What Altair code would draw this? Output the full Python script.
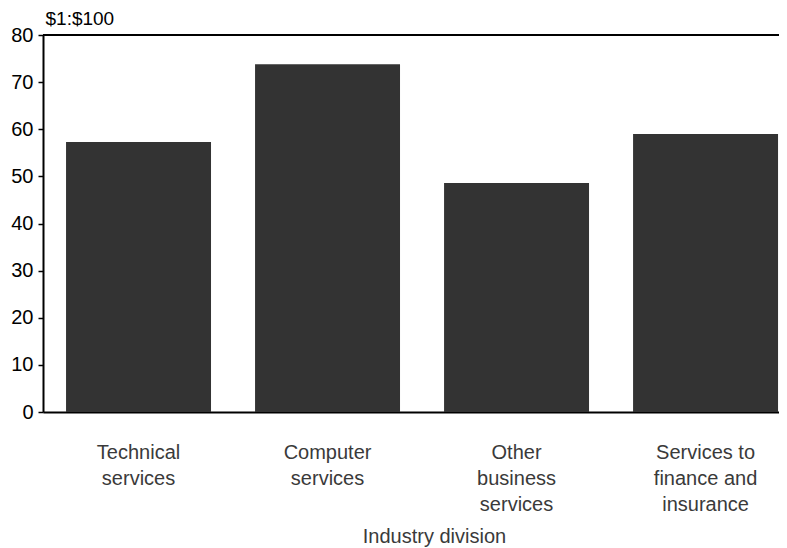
import altair as alt
import pandas as pd

categories = ["Technical services", "Computer services", "Other business services", "Services to finance and insurance"]
label_lines = [["Technical", "services"], ["Computer", "services"], ["Other", "business", "services"], ["Services to", "finance and", "insurance"]]
values = [57.3, 73.8, 48.6, 59.0]
y_ticks = [0, 10, 20, 30, 40, 50, 60, 70, 80]

df = pd.DataFrame({"division": categories, "ratio": values})
top_df = pd.DataFrame({"v": [80]})

expr = ""
for cat, lines in zip(categories, label_lines):
    arr = "[" + ",".join("'" + l + "'" for l in lines) + "]"
    expr += f"datum.label == '{cat}' ? {arr} : "
expr += "datum.label"

FONT = "Liberation Sans"
W, H = 736, 377

bars = alt.Chart(df).mark_bar(color="#333333").encode(
    x=alt.X("division:N", sort=None,
            scale=alt.Scale(paddingInner=0.233, paddingOuter=0.0635, align=0.96),
            axis=alt.Axis(title="Industry division", labelAngle=0, ticks=False, domain=True,
                          domainColor="#000000", domainWidth=2,
                          labelExpr=expr, labelFontSize=20, labelColor="#3a3a3a",
                          labelFont=FONT, labelBaseline="top", labelPadding=30,
                          labelLineHeight=26, labelAlign="center",
                          titleFont=FONT, titleFontSize=20, titleFontWeight="normal",
                          titleColor="#3a3a3a", titleX=391, titleY=130,
                          titleBaseline="alphabetic", titleAlign="center")),
    y=alt.Y("ratio:Q", scale=alt.Scale(domain=[0, 80], nice=False),
            axis=alt.Axis(title="$1:$100", values=y_ticks,
                          grid=False, domainColor="#000000", domainWidth=2,
                          tickColor="#000000", tickSize=5, tickWidth=1.5,
                          labelFont=FONT, labelFontSize=20, labelColor="#000000",
                          labelPadding=5,
                          titleFont=FONT, titleFontSize=19, titleFontWeight="normal",
                          titleColor="#000000", titleAngle=0, titleAlign="left",
                          titleBaseline="alphabetic", titleX=2, titleY=-11)),
)

top_line = alt.Chart(top_df).mark_rule(color="#000000", strokeWidth=2).encode(
    y=alt.Y("v:Q"),
    x=alt.value(0),
    x2=alt.value(W),
)

chart = alt.layer(bars, top_line).properties(
    width=W, height=H,
    autosize=alt.AutoSizeParams(type="none"),
    padding={"left": 35, "top": 27, "right": 0, "bottom": 136},
).configure_view(
    stroke=None
)

chart.save("out.html", embed_options={"renderer": "svg", "actions": False})
